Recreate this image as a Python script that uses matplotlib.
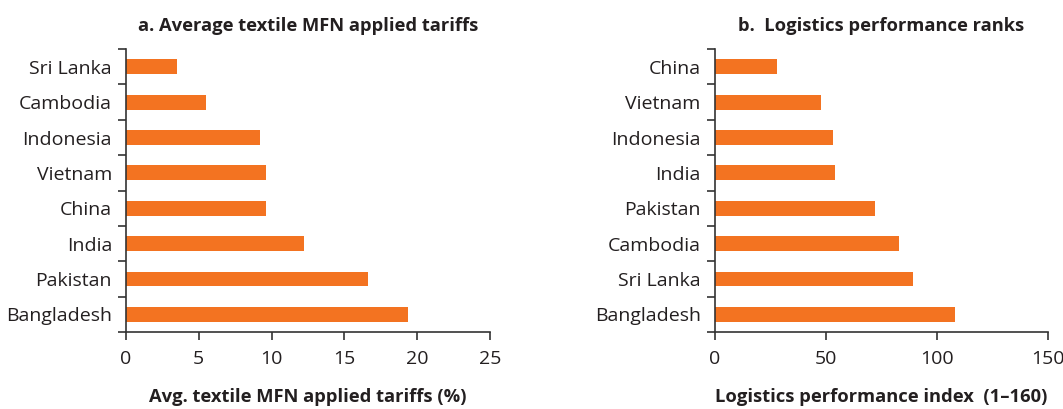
import matplotlib
matplotlib.use("Agg")
import matplotlib.pyplot as plt
import numpy as np

# Data (top to bottom)
tariff_countries = ["Sri Lanka", "Cambodia", "Indonesia", "Vietnam", "China", "India", "Pakistan", "Bangladesh"]
tariff_values = [3.5, 5.5, 9.2, 9.6, 9.6, 12.2, 16.6, 19.4]
lpi_countries = ["China", "Vietnam", "Indonesia", "India", "Pakistan", "Cambodia", "Sri Lanka", "Bangladesh"]
lpi_values = [28, 48, 53, 54, 72, 83, 89, 108]
tariff_ticks = [0, 5, 10, 15, 20, 25]
lpi_ticks = [0, 50, 100, 150]

plt.rcParams['font.family'] = ['Open Sans', 'DejaVu Sans']
BAR = '#F37321'
TXT = '#231F20'
AX = '#333333'

fig = plt.figure(figsize=(10.63, 4.09), dpi=100)
ax1 = fig.add_axes([0.1185, 0.188, 0.3425, 0.692])
ax2 = fig.add_axes([0.6723, 0.188, 0.3138, 0.692])

def draw(ax, cats, vals, ticks, title, xlabel):
    y = np.arange(len(cats))
    ax.barh(y, vals, height=0.42, color=BAR)
    ax.set_ylim(len(cats) - 0.5, -0.5)
    ax.set_xlim(ticks[0], ticks[-1])
    ax.set_xticks(ticks)
    ax.set_yticks(y)
    ax.set_yticklabels(cats)
    ax.set_yticks(np.arange(len(cats) + 1) - 0.5, minor=True)
    ax.tick_params(axis='y', which='major', length=0, pad=10, labelsize=14, labelcolor=TXT)
    ax.tick_params(axis='y', which='minor', length=6, width=1.2, color=AX)
    ax.tick_params(axis='x', which='major', length=6, width=1.2, color=AX, labelsize=14, labelcolor=TXT, pad=7)
    for s in ['top', 'right']:
        ax.spines[s].set_visible(False)
    for s in ['left', 'bottom']:
        ax.spines[s].set_color(AX)
        ax.spines[s].set_linewidth(1.2)
    ax.set_title(title, fontsize=13.2, fontweight='bold', color=TXT, pad=13)
    ax.set_xlabel(xlabel, fontsize=13.2, fontweight='bold', color=TXT, labelpad=14)

draw(ax1, tariff_countries, tariff_values, tariff_ticks,
     "a. Average textile MFN applied tariffs", "Avg. textile MFN applied tariffs (%)")
draw(ax2, lpi_countries, lpi_values, lpi_ticks,
     "b.  Logistics performance ranks", "Logistics performance index  (1–160)")

fig.savefig("out.png", dpi=100)
